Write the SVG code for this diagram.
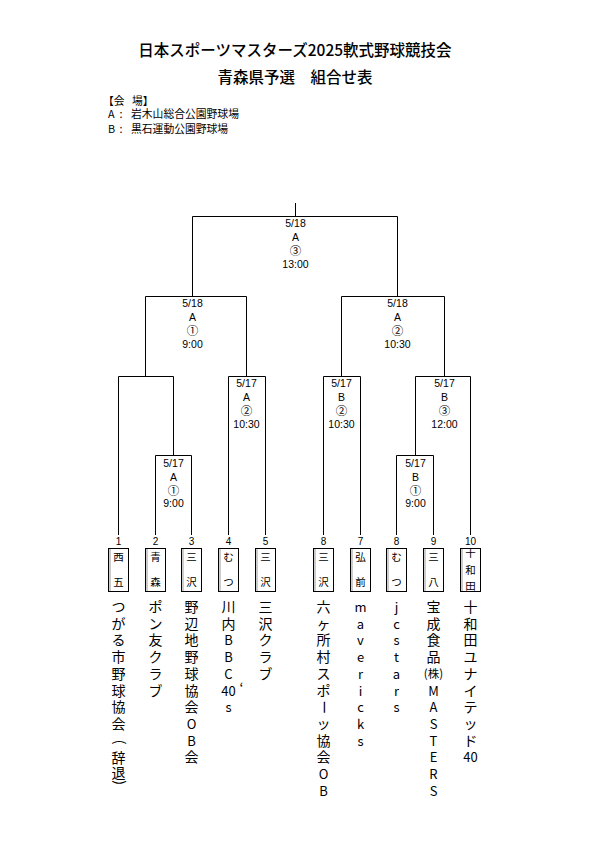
<svg xmlns="http://www.w3.org/2000/svg" width="595" height="841" viewBox="0 0 595 841">
<style>
.ln{stroke:#000;stroke-width:1;fill:none}
.lbl{font-family:"Liberation Sans",Arial,sans-serif;font-size:10.5px;text-anchor:middle;fill:#000}
.circ{font-family:"Noto Sans CJK JP","DejaVu Sans",sans-serif;font-size:11.5px;text-anchor:middle;fill:#000}
.num{font-family:"Liberation Sans",Arial,sans-serif;font-size:10px;text-anchor:middle;fill:#000}
.box{fill:#fff;stroke:#000;stroke-width:1}
.inner{stroke:#999;stroke-width:1}
.bx{font-family:"Noto Sans CJK JP",sans-serif;font-size:10.5px;text-anchor:middle;fill:#000}
.tm{font-family:"Noto Sans CJK JP",sans-serif;font-size:14px;text-anchor:middle;fill:#000}
.lat{font-size:13px}
.title{font-family:"Noto Sans CJK JP",sans-serif;font-size:15.5px;text-anchor:middle;fill:#000;font-weight:500}
.leg{font-family:"Noto Sans CJK JP",sans-serif;font-size:10.8px;fill:#000}
</style>
<rect width="595" height="841" fill="#fff"/>
<g id="title">
<text class="title" x="295" y="55.7">日本スポーツマスターズ2025軟式野球競技会</text>
<text class="title" x="295" y="82.7">青森県予選　組合せ表</text>
</g>
<g id="legend">
<text class="leg" x="103" y="105">【会</text><text class="leg" x="132" y="105">場】</text>
<text class="leg" x="108" y="118">A</text><text class="leg" x="121" y="118" text-anchor="middle">:</text><text class="leg" x="131" y="118">岩木山総合公園野球場</text>
<text class="leg" x="108" y="133">B</text><text class="leg" x="121" y="133" text-anchor="middle">:</text><text class="leg" x="131" y="133">黒石運動公園野球場</text>
</g>
<g id="connectors">
<path class="ln" d="M295.5,203 V216.5 M192.5,296.5 V216.5 H397.5 V296.5"/>
<path class="ln" d="M145.5,376.5 V296.5 H246.5 V376.5"/>
<path class="ln" d="M341.5,376.5 V296.5 H444.5 V376.5"/>
<path class="ln" d="M118.5,535 V376.5 H173.5 V455.5"/>
<path class="ln" d="M155.5,535 V455.5 H191.5 V535"/>
<path class="ln" d="M228.5,535 V376.5 H265.5 V535"/>
<path class="ln" d="M323.5,535 V376.5 H360.5 V535"/>
<path class="ln" d="M396.5,535 V455.5 H433.5 V535"/>
<path class="ln" d="M415.5,455.5 V376.5 H470.5 V535"/>
</g>
<g id="match-final">
<text class="lbl" x="295.5" y="226.8">5/18</text><text class="lbl" x="295.5" y="240.8">A</text><text class="circ" x="295.5" y="254.5">③</text><text class="lbl" x="295.5" y="267.8">13:00</text>
</g>
<g id="match-semi1">
<text class="lbl" x="192.5" y="306.8">5/18</text><text class="lbl" x="192.5" y="320.8">A</text><text class="circ" x="192.5" y="334.5">①</text><text class="lbl" x="192.5" y="347.8">9:00</text>
</g>
<g id="match-semi2">
<text class="lbl" x="397.5" y="306.8">5/18</text><text class="lbl" x="397.5" y="320.8">A</text><text class="circ" x="397.5" y="334.5">②</text><text class="lbl" x="397.5" y="347.8">10:30</text>
</g>
<g id="match-a2">
<text class="lbl" x="246.5" y="386.8">5/17</text><text class="lbl" x="246.5" y="400.8">A</text><text class="circ" x="246.5" y="414.5">②</text><text class="lbl" x="246.5" y="427.8">10:30</text>
</g>
<g id="match-b2">
<text class="lbl" x="341.5" y="386.8">5/17</text><text class="lbl" x="341.5" y="400.8">B</text><text class="circ" x="341.5" y="414.5">②</text><text class="lbl" x="341.5" y="427.8">10:30</text>
</g>
<g id="match-b3">
<text class="lbl" x="444.5" y="386.8">5/17</text><text class="lbl" x="444.5" y="400.8">B</text><text class="circ" x="444.5" y="414.5">③</text><text class="lbl" x="444.5" y="427.8">12:00</text>
</g>
<g id="match-a1">
<text class="lbl" x="173.5" y="466.8">5/17</text><text class="lbl" x="173.5" y="480.8">A</text><text class="circ" x="173.5" y="494.5">①</text><text class="lbl" x="173.5" y="506.8">9:00</text>
</g>
<g id="match-b1">
<text class="lbl" x="415.5" y="466.8">5/17</text><text class="lbl" x="415.5" y="480.8">B</text><text class="circ" x="415.5" y="494.5">①</text><text class="lbl" x="415.5" y="506.8">9:00</text>
</g>

<g id="team1">
<text class="num" x="118.5" y="544.5">1</text>
<rect class="box" x="108.5" y="548.5" width="20" height="43"/><line class="inner" x1="110" y1="549" x2="110" y2="591"/>
<text class="bx" x="118.5" y="561">西</text><text class="bx" x="118.5" y="586">五</text>
<text class="tm"><tspan x="118.5" y="612">つ</tspan><tspan x="118.5" y="628.7">が</tspan><tspan x="118.5" y="645.4">る</tspan><tspan x="118.5" y="662.1">市</tspan><tspan x="118.5" y="678.8">野</tspan><tspan x="118.5" y="695.5">球</tspan><tspan x="118.5" y="712.2">協</tspan><tspan x="118.5" y="728.9">会</tspan><tspan x="118.5" y="763">辞</tspan><tspan x="118.5" y="777.5">退</tspan></text>
<text class="tm" font-size="12" x="118.5" y="745.5" transform="rotate(90 118.5 742)">(</text>
<text class="tm" font-size="12" x="118.5" y="786" transform="rotate(90 118.5 782.5)">)</text>
</g>
<g id="team2">
<text class="num" x="155.5" y="544.5">2</text>
<rect class="box" x="145.5" y="548.5" width="20" height="43"/><line class="inner" x1="147" y1="549" x2="147" y2="591"/>
<text class="bx" x="155.5" y="561">青</text><text class="bx" x="155.5" y="586">森</text>
<text class="tm"><tspan x="155.5" y="612">ポ</tspan><tspan x="155.5" y="628.7">ン</tspan><tspan x="155.5" y="645.4">友</tspan><tspan x="155.5" y="662.1">ク</tspan><tspan x="155.5" y="678.8">ラ</tspan><tspan x="155.5" y="695.5">ブ</tspan></text>
</g>
<g id="team3">
<text class="num" x="191.5" y="544.5">3</text>
<rect class="box" x="181.5" y="548.5" width="20" height="43"/><line class="inner" x1="183" y1="549" x2="183" y2="591"/>
<text class="bx" x="191.5" y="561">三</text><text class="bx" x="191.5" y="586">沢</text>
<text class="tm"><tspan x="191.5" y="612">野</tspan><tspan x="191.5" y="628.7">辺</tspan><tspan x="191.5" y="645.4">地</tspan><tspan x="191.5" y="662.1">野</tspan><tspan x="191.5" y="678.8">球</tspan><tspan x="191.5" y="695.5">協</tspan><tspan x="191.5" y="712.2">会</tspan><tspan class="lat" x="191.5" y="728.9">O</tspan><tspan class="lat" x="191.5" y="745.6">B</tspan><tspan x="191.5" y="762.3">会</tspan></text>
</g>
<g id="team4">
<text class="num" x="228.5" y="544.5">4</text>
<rect class="box" x="218.5" y="548.5" width="20" height="43"/><line class="inner" x1="220" y1="549" x2="220" y2="591"/>
<text class="bx" x="228.5" y="561">む</text><text class="bx" x="228.5" y="586">つ</text>
<text class="tm"><tspan x="228.5" y="612">川</tspan><tspan x="228.5" y="628.7">内</tspan><tspan class="lat" x="228.5" y="645.4">B</tspan><tspan class="lat" x="228.5" y="662.1">B</tspan><tspan class="lat" x="228.5" y="678.8">C</tspan><tspan class="lat" x="228.5" y="695.5">40</tspan><tspan class="lat" x="228.5" y="712.2">s</tspan></text>
<text class="tm" font-size="12" x="241.5" y="694">‘</text>
</g>
<g id="team5">
<text class="num" x="265.5" y="544.5">5</text>
<rect class="box" x="255.5" y="548.5" width="20" height="43"/><line class="inner" x1="257" y1="549" x2="257" y2="591"/>
<text class="bx" x="265.5" y="561">三</text><text class="bx" x="265.5" y="586">沢</text>
<text class="tm"><tspan x="265.5" y="612">三</tspan><tspan x="265.5" y="628.7">沢</tspan><tspan x="265.5" y="645.4">ク</tspan><tspan x="265.5" y="662.1">ラ</tspan><tspan x="265.5" y="678.8">ブ</tspan></text>
</g>
<g id="team6">
<text class="num" x="323.5" y="544.5">8</text>
<rect class="box" x="313.5" y="548.5" width="20" height="43"/><line class="inner" x1="315" y1="549" x2="315" y2="591"/>
<text class="bx" x="323.5" y="561">三</text><text class="bx" x="323.5" y="586">沢</text>
<text class="tm"><tspan x="323.5" y="612">六</tspan><tspan x="323.5" y="628.7">ヶ</tspan><tspan x="323.5" y="645.4">所</tspan><tspan x="323.5" y="662.1">村</tspan><tspan x="323.5" y="678.8">ス</tspan><tspan x="323.5" y="695.5">ポ</tspan><tspan x="323.5" y="728.9">ッ</tspan><tspan x="323.5" y="745.6">協</tspan><tspan x="323.5" y="762.3">会</tspan><tspan class="lat" x="323.5" y="779">O</tspan><tspan class="lat" x="323.5" y="795.7">B</tspan></text>
<text class="tm" x="323.5" y="712.2" transform="rotate(90 323.5 707.2)">ー</text>
</g>
<g id="team7">
<text class="num" x="360.5" y="544.5">7</text>
<rect class="box" x="350.5" y="548.5" width="20" height="43"/><line class="inner" x1="352" y1="549" x2="352" y2="591"/>
<text class="bx" x="360.5" y="561">弘</text><text class="bx" x="360.5" y="586">前</text>
<text class="tm lat"><tspan x="360.5" y="612">m</tspan><tspan x="360.5" y="628.7">a</tspan><tspan x="360.5" y="645.4">v</tspan><tspan x="360.5" y="662.1">e</tspan><tspan x="360.5" y="678.8">r</tspan><tspan x="360.5" y="695.5">i</tspan><tspan x="360.5" y="712.2">c</tspan><tspan x="360.5" y="728.9">k</tspan><tspan x="360.5" y="745.6">s</tspan></text>
</g>
<g id="team8">
<text class="num" x="396.5" y="544.5">8</text>
<rect class="box" x="386.5" y="548.5" width="20" height="43"/><line class="inner" x1="388" y1="549" x2="388" y2="591"/>
<text class="bx" x="396.5" y="561">む</text><text class="bx" x="396.5" y="586">つ</text>
<text class="tm lat"><tspan x="396.5" y="612">j</tspan><tspan x="396.5" y="628.7">c</tspan><tspan x="396.5" y="645.4">s</tspan><tspan x="396.5" y="662.1">t</tspan><tspan x="396.5" y="678.8">a</tspan><tspan x="396.5" y="695.5">r</tspan><tspan x="396.5" y="712.2">s</tspan></text>
</g>
<g id="team9">
<text class="num" x="433.5" y="544.5">9</text>
<rect class="box" x="423.5" y="548.5" width="20" height="43"/><line class="inner" x1="425" y1="549" x2="425" y2="591"/>
<text class="bx" x="433.5" y="561">三</text><text class="bx" x="433.5" y="586">八</text>
<text class="tm"><tspan x="433.5" y="612">宝</tspan><tspan x="433.5" y="628.7">成</tspan><tspan x="433.5" y="645.4">食</tspan><tspan x="433.5" y="662.1">品</tspan><tspan x="433.5" y="678" font-size="11.5">(株)</tspan><tspan class="lat" x="433.5" y="695.5">M</tspan><tspan class="lat" x="433.5" y="712.2">A</tspan><tspan class="lat" x="433.5" y="728.9">S</tspan><tspan class="lat" x="433.5" y="745.6">T</tspan><tspan class="lat" x="433.5" y="762.3">E</tspan><tspan class="lat" x="433.5" y="779">R</tspan><tspan class="lat" x="433.5" y="795.7">S</tspan></text>
</g>
<g id="team10">
<text class="num" x="470.5" y="544.5">10</text>
<rect class="box" x="460.5" y="548.5" width="20" height="43"/><line class="inner" x1="462" y1="549" x2="462" y2="591"/>
<text class="bx" x="470.5" y="557">十</text><text class="bx" x="470.5" y="574">和</text><text class="bx" x="470.5" y="590">田</text>
<text class="tm"><tspan x="470.5" y="612">十</tspan><tspan x="470.5" y="628.7">和</tspan><tspan x="470.5" y="645.4">田</tspan><tspan x="470.5" y="662.1">ユ</tspan><tspan x="470.5" y="678.8">ナ</tspan><tspan x="470.5" y="695.5">イ</tspan><tspan x="470.5" y="712.2">テ</tspan><tspan x="470.5" y="728.9">ッ</tspan><tspan x="470.5" y="745.6">ド</tspan><tspan class="lat" x="470.5" y="762.3">40</tspan></text>
</g>
</svg>
